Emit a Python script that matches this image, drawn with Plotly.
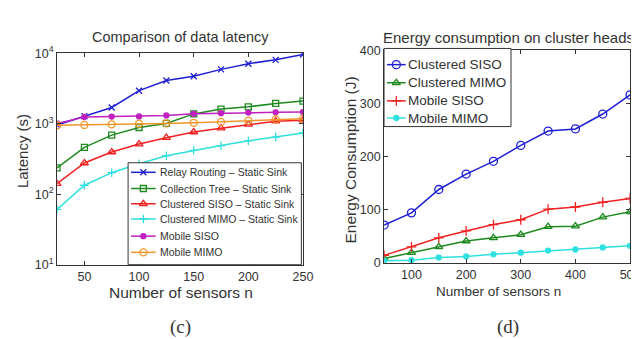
import plotly.graph_objects as go

# ---- (c) Comparison of data latency ----
n_c = [25, 50, 75, 100, 125, 150, 175, 200, 225, 250]
relay_routing = [960, 1280, 1700, 2940, 4090, 4700, 5890, 7100, 8040, 9600]
collection_tree = [237, 463, 689, 883, 1010, 1377, 1610, 1734, 1940, 2090]
clustered_siso_static = [141, 277, 397, 515, 634, 763, 865, 979, 1087, 1122]
clustered_mimo_static = [61, 134, 202, 271, 351, 419, 489, 571, 647, 740]
mobile_siso_c = [1010, 1245, 1260, 1270, 1310, 1380, 1410, 1440, 1450, 1460]
mobile_mimo_c = [950, 960, 980, 1000, 1010, 1030, 1060, 1100, 1150, 1180]
names_c = ["Relay Routing \u2013 Static Sink", "Collection Tree \u2013 Static Sink",
           "Clustered SISO \u2013 Static Sink", "Clustered MIMO \u2013 Static Sink",
           "Mobile SISO", "Mobile MIMO"]

# ---- (d) Energy consumption on cluster heads ----
n_d = [50, 100, 150, 200, 250, 300, 350, 400, 450, 500]
e_clustered_siso = [71, 94, 138, 167, 191, 221, 248, 252, 280, 316]
e_clustered_mimo = [8, 19, 30, 41, 47, 53, 68, 69, 86, 96]
e_mobile_siso = [14, 30, 47, 60, 72, 81, 101, 105, 114, 121]
e_mobile_mimo = [4, 5, 10, 12, 16, 19, 23, 25, 29, 32]
names_d = ["Clustered SISO", "Clustered MIMO", "Mobile SISO", "Mobile MIMO"]

BLUE = "#1f1fd6"
GREEN = "#1f8a1f"
RED = "#f02020"
CYAN = "#30e0e0"
MAGENTA = "#c020c0"
ORANGE = "#f0962a"
TXT = "#333333"

W, H = 639, 339

series_c = [
    (relay_routing, BLUE, "x-thin", 6),
    (collection_tree, GREEN, "square-open", 6),
    (clustered_siso_static, RED, "triangle-up-open", 7),
    (clustered_mimo_static, CYAN, "cross-thin", 6),
    (mobile_siso_c, MAGENTA, "circle", 5),
    (mobile_mimo_c, ORANGE, "circle-open", 7),
]
series_d = [
    (e_clustered_siso, BLUE, "circle-open", 8),
    (e_clustered_mimo, GREEN, "triangle-up-open", 7),
    (e_mobile_siso, RED, "cross-thin", 7),
    (e_mobile_mimo, CYAN, "circle", 5),
]

fig = go.Figure()

def add(x, y, color, symbol, size, xa, ya):
    fig.add_trace(go.Scatter(
        x=x, y=y, mode="lines+markers", showlegend=False, hoverinfo="skip",
        line=dict(color=color, width=1.5),
        marker=dict(symbol=symbol, size=size, color=color,
                    line=dict(color=color, width=1.3)),
        xaxis=xa, yaxis=ya))

for vals, col, sym, sz in series_c:
    add(n_c, vals, col, sym, sz, "x", "y")
for vals, col, sym, sz in series_d:
    add(n_d, vals, col, sym, sz, "x2", "y2")

# ---- hand-drawn legends (pixel layout on an overlay axis) ----
shapes = []
annotations = []

def legend_box(x0, y0, x1, y1, rows, names, series, line_x0, line_x1, text_x, fsize):
    shapes.append(dict(type="rect", xref="x3", yref="y3", x0=x0, y0=y0, x1=x1, y1=y1,
                       fillcolor="white", line=dict(color=TXT, width=1), layer="below"))
    for yy, name, (vals, col, sym, sz) in zip(rows, names, series):
        fig.add_trace(go.Scatter(
            x=[line_x0, line_x1], y=[yy, yy], mode="lines", showlegend=False,
            hoverinfo="skip", line=dict(color=col, width=1.5), xaxis="x3", yaxis="y3"))
        fig.add_trace(go.Scatter(
            x=[(line_x0 + line_x1) / 2], y=[yy], mode="markers", showlegend=False,
            hoverinfo="skip", marker=dict(symbol=sym, size=sz, color=col,
                                          line=dict(color=col, width=1.3)),
            xaxis="x3", yaxis="y3"))
        annotations.append(dict(text=name, x=text_x, y=yy, xref="x3", yref="y3",
                                xanchor="left", yanchor="middle", showarrow=False,
                                font=dict(size=fsize, color=TXT)))

legend_box(122, 153, 298, 260, [163, 180, 196, 212, 230, 247], names_c, series_c,
           125, 150, 152, 10.5)
legend_box(382, 33, 511, 115, [50, 69, 88, 106], names_d, series_d,
           385, 404, 404, 13.5)

def text(t, x, y, size, angle=0, family="Liberation Sans"):
    annotations.append(dict(text=t, x=x, y=y, xref="x3", yref="y3", xanchor="center",
                            yanchor="middle", showarrow=False, textangle=angle,
                            font=dict(family=family, size=size, color=TXT)))

text("Comparison of data latency", 175, 21, 14.5)
text("Energy consumption on cluster heads", 508, 21, 15)
text("Number of sensors n", 176, 289, 15.5)
text("Number of sensors n", 498, 288, 13.5)
text("Latency (s)", 15, 141, 15, -90)
text("Energy Consumption (J)", 348, 150, 15.5, -90)
text("(c)", 175, 325, 19, family="Liberation Serif")
text("(d)", 508, 325, 19, family="Liberation Serif")

axis_common = dict(showline=True, linecolor="#333", linewidth=1, mirror="ticks",
                   ticks="inside", ticklen=4, tickcolor="#333", showgrid=False,
                   zeroline=False, tickfont=dict(family="Liberation Sans", size=12.5, color=TXT))

fig.update_layout(
    width=W, height=H,
    margin=dict(l=0, r=0, t=0, b=0),
    paper_bgcolor="white", plot_bgcolor="rgba(0,0,0,0)",
    font=dict(family="Liberation Sans", color=TXT),
    showlegend=False,
    xaxis=dict(domain=[0.078, 0.469], range=[25, 250], tickvals=[50, 100, 150, 200, 250],
               **axis_common),
    yaxis=dict(domain=[0.233, 0.888], type="log", range=[1, 4],
               tickvals=[10, 100, 1000, 10000],
               ticktext=["10<sup>1</sup>", "10<sup>2</sup>", "10<sup>3</sup>", "10<sup>4</sup>"],
               **axis_common),
    xaxis2=dict(domain=[0.598, 0.989], range=[50, 500], tickvals=[100, 200, 300, 400, 500],
                anchor="y2", **axis_common),
    yaxis2=dict(domain=[0.239, 0.897], range=[0, 400], tickvals=[0, 100, 200, 300, 400],
                anchor="x2", **axis_common),
    xaxis3=dict(domain=[0, 1], range=[0, W], visible=False, anchor="y3", fixedrange=True),
    yaxis3=dict(domain=[0, 1], range=[H, 0], visible=False, anchor="x3", fixedrange=True),
    shapes=shapes,
    annotations=annotations,
)

fig.write_html("out.html")
